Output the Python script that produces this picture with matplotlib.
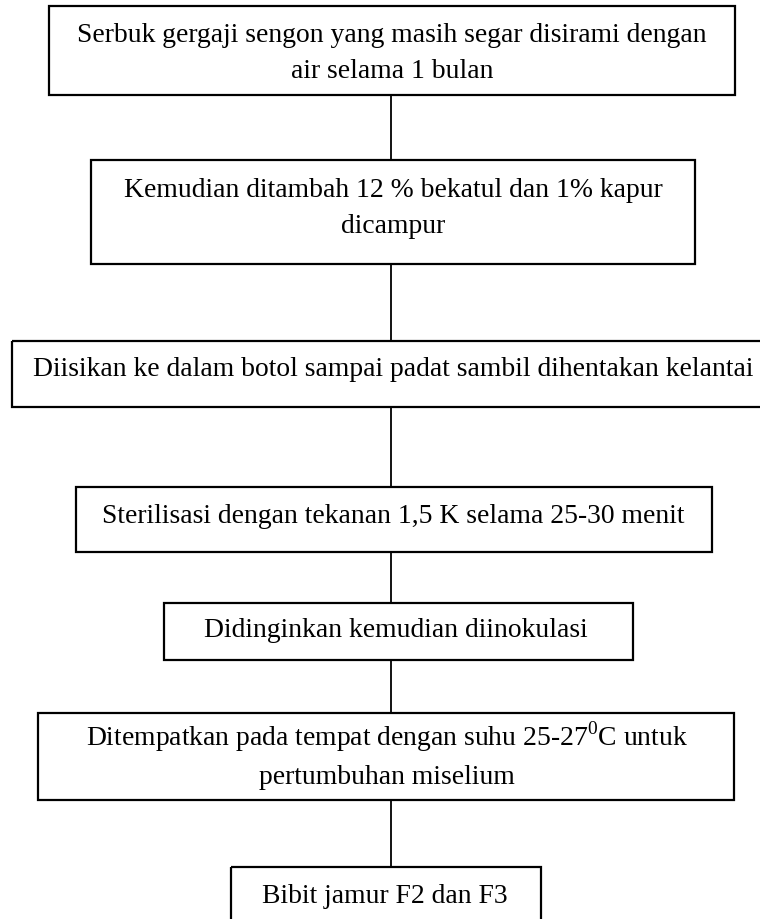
import matplotlib
matplotlib.use("Agg")
import matplotlib.pyplot as plt
from matplotlib.patches import Rectangle

FONT = "Liberation Serif"
FONT_SIZE = 19.9
OUTPUT_FILENAME = "out.png"

# flow steps, top to bottom (pixel coordinates of the source picture)
STEP_LINES = [
    ["Serbuk gergaji sengon yang masih segar disirami dengan", "air selama 1 bulan"],
    ["Kemudian ditambah 12 % bekatul dan 1% kapur", "dicampur"],
    ["Diisikan ke dalam botol sampai padat sambil dihentakan kelantai"],
    ["Sterilisasi dengan tekanan 1,5 K selama 25-30 menit"],
    ["Didinginkan kemudian diinokulasi"],
    [r"Ditempatkan pada tempat dengan suhu 25-27$^{\mathrm{0}}$C untuk", "pertumbuhan miselium"],
    ["Bibit jamur F2 dan F3"],
]
BOX_LEFT = [49, 91, 12, 76, 164, 38, 231]
BOX_RIGHT = [735, 695, 775, 712, 633, 734, 541]
BOX_TOP = [6, 160, 341, 487, 603, 713, 867]
BOX_BOTTOM = [95, 264, 407, 552, 660, 800, 935]
LINE_BASELINES = [[42, 78], [197, 233], [376], [523], [637], [746, 784], [903]]
TEXT_CENTER = [392, 393, 393, 393, 396, 387, 385]
CONNECTOR_X = 391


def main():
    plt.rcParams["font.family"] = FONT
    plt.rcParams["mathtext.fontset"] = "custom"
    plt.rcParams["mathtext.rm"] = FONT

    fig = plt.figure(figsize=(7.6, 9.19), dpi=100)
    ax = fig.add_axes([0, 0, 1, 1])
    ax.set_xlim(0, 760)
    ax.set_ylim(919, 0)
    ax.axis("off")

    for i, lines in enumerate(STEP_LINES):
        ax.add_patch(Rectangle(
            (BOX_LEFT[i], BOX_TOP[i]),
            BOX_RIGHT[i] - BOX_LEFT[i],
            BOX_BOTTOM[i] - BOX_TOP[i],
            fill=False, edgecolor="black", linewidth=1.6,
        ))
        for line, base in zip(lines, LINE_BASELINES[i]):
            ax.text(TEXT_CENTER[i], base, line, ha="center", va="baseline",
                    fontsize=FONT_SIZE, color="black")

    # connectors between consecutive boxes
    for i in range(len(STEP_LINES) - 1):
        ax.plot([CONNECTOR_X, CONNECTOR_X], [BOX_BOTTOM[i], BOX_TOP[i + 1]],
                color="black", linewidth=1.3, solid_capstyle="butt")

    fig.savefig(OUTPUT_FILENAME, dpi=100, facecolor="white")
    plt.close(fig)


if __name__ == "__main__":
    main()
